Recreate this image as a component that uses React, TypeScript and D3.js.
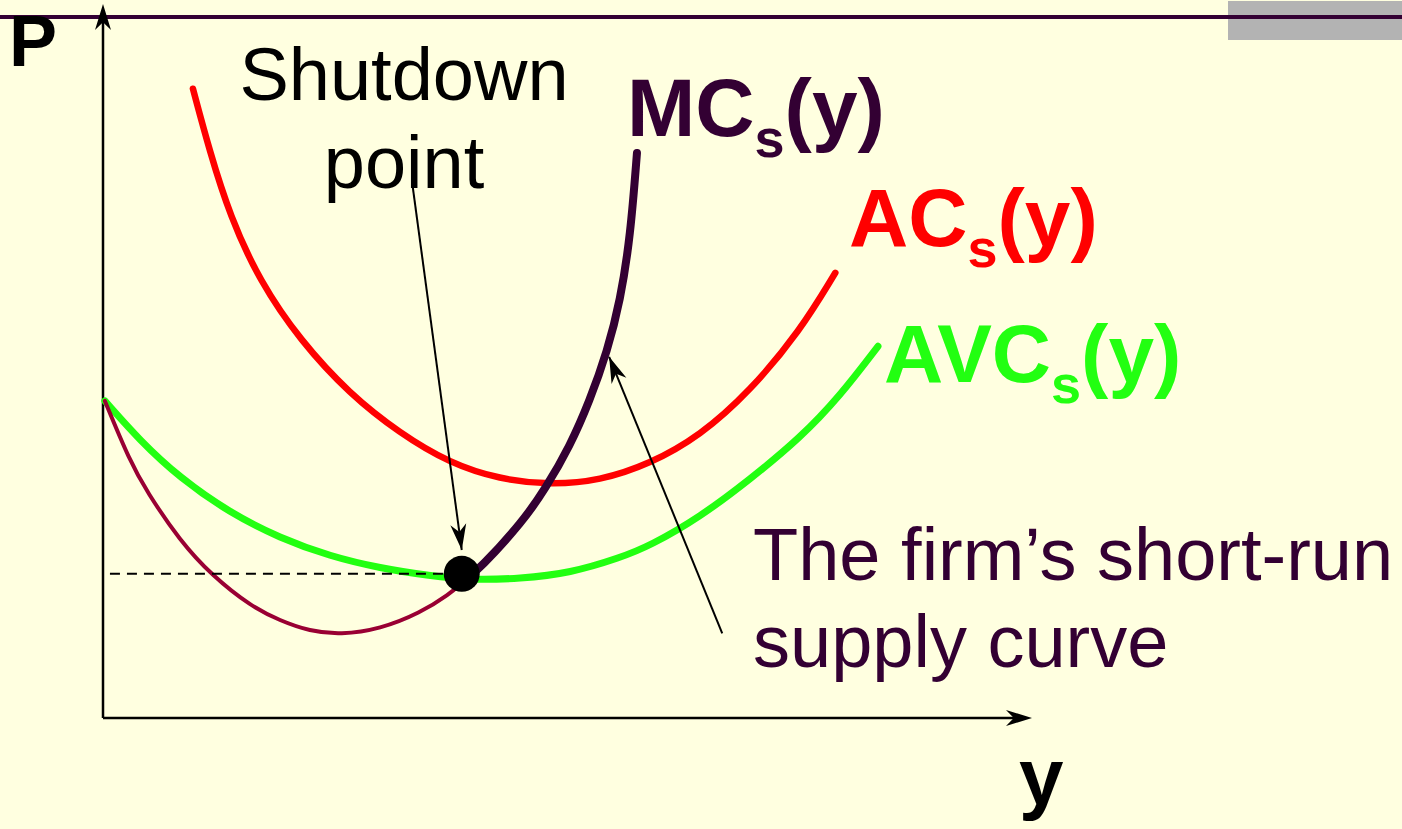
import React from "react";
import * as d3 from "d3";

// Quantity (y) and price (P) values in chart units (0-100 on both axes)
const acQ = [9.7, 11.5, 13.7, 16.9, 21.3, 26.6, 32.0, 37.4, 42.8, 48.2, 53.6, 59.0, 64.4, 69.8, 75.2, 79.0];
const acP = [89.9, 81.0, 71.7, 62.4, 53.9, 46.3, 40.7, 36.4, 34.1, 33.3, 33.9, 36.3, 40.3, 46.7, 55.3, 63.6];

const avcQ = [0.2, 4.0, 8.3, 13.7, 19.1, 24.5, 29.9, 35.3, 39.6, 45.0, 50.4, 55.8, 59.0, 64.4, 69.8, 75.2, 79.5, 83.6];
const avcP = [45.3, 39.6, 34.3, 29.3, 25.7, 23.1, 21.4, 20.3, 19.7, 19.9, 20.7, 22.9, 24.6, 28.7, 34.1, 40.0, 46.0, 53.1];

// MC below the shutdown point (thin)
const mcLowQ = [0.2, 2.9, 4.7, 8.3, 11.8, 15.9, 19.1, 22.3, 25.6, 29.9, 34.2, 37.4, 38.7];
const mcLowP = [45.3, 36.7, 32.4, 25.3, 20.3, 16.0, 13.9, 12.4, 11.9, 12.7, 15.0, 17.7, 19.3];

// MC above the shutdown point = short-run supply curve (thick)
const mcHighQ = [38.7, 40.7, 45.3, 47.7, 50.4, 52.5, 54.4, 55.8, 56.9, 57.6];
const mcHighP = [19.3, 21.4, 28.1, 32.7, 38.9, 45.3, 52.4, 59.6, 68.9, 80.7];

const shutdownQ = 38.7;
const shutdownP = 20.6;

// annotation arrows: [tailQ, tailP, tipQ, tipP]
const shutdownArrow = [33.4, 76.0, 38.7, 24.0];
const supplyArrow = [66.8, 12.1, 54.6, 51.6];

const W = 1402;
const H = 829;
const xs = d3.scaleLinear().domain([0, 100]).range([103, 1030]);
const ys = d3.scaleLinear().domain([0, 100]).range([718, 18]);

const zip = (q: number[], p: number[]): [number, number][] => q.map((v, i) => [v, p[i]]);
const line = d3
  .line<[number, number]>()
  .x((d) => xs(d[0]))
  .y((d) => ys(d[1]))
  .curve(d3.curveBasis);

function arrowHead(tx: number, ty: number, fx: number, fy: number, len = 26, half = 8, notch = 0.3) {
  const dx = tx - fx;
  const dy = ty - fy;
  const L = Math.hypot(dx, dy);
  const ux = dx / L;
  const uy = dy / L;
  const px = -uy;
  const py = ux;
  const bx = tx - ux * len;
  const by = ty - uy * len;
  const nx = tx - ux * len * (1 - notch);
  const ny = ty - uy * len * (1 - notch);
  return `M${tx},${ty}L${bx + px * half},${by + py * half}L${nx},${ny}L${bx - px * half},${by - py * half}Z`;
}

const FONT = "'Liberation Sans', Arial, Helvetica, sans-serif";
const PURPLE = "#330033";

function Arrow({ a }: { a: number[] }) {
  const x1 = xs(a[0]);
  const y1 = ys(a[1]);
  const x2 = xs(a[2]);
  const y2 = ys(a[3]);
  return (
    <g>
      <line x1={x1} y1={y1} x2={x2} y2={y2} stroke="#000" strokeWidth={2} />
      <path d={arrowHead(x2, y2, x1, y1, 26, 8)} fill="#000" />
    </g>
  );
}

export default function App() {
  const axX0 = xs(0);
  const axY0 = ys(0);
  const axTopY = 4;
  const axRightX = 1032;
  return (
    <div style={{ position: "fixed", left: 0, top: 0 }}>
      <svg width={W} height={H} style={{ display: "block" }}>
        <rect x={0} y={0} width={W} height={H} fill="#FFFFE0" />
        <rect x={1228} y={1} width={174} height={39} fill="#B3B3B3" />
        <line x1={0} y1={17} x2={W} y2={17} stroke={PURPLE} strokeWidth={4} />

        {/* axes */}
        <line x1={axX0} y1={axY0} x2={axX0} y2={axTopY + 10} stroke="#000" strokeWidth={2.5} />
        <path d={arrowHead(axX0, axTopY, axX0, axY0, 26, 8)} fill="#000" />
        <line x1={axX0} y1={axY0} x2={axRightX - 10} y2={axY0} stroke="#000" strokeWidth={2.5} />
        <path d={arrowHead(axRightX, axY0, axX0, axY0, 26, 8)} fill="#000" />

        {/* curves */}
        <path d={line(zip(avcQ, avcP)) || ""} fill="none" stroke="#22FF11" strokeWidth={7} strokeLinecap="round" />
        <path d={line(zip(acQ, acP)) || ""} fill="none" stroke="#FF0000" strokeWidth={6.5} strokeLinecap="round" />
        <path d={line(zip(mcLowQ, mcLowP)) || ""} fill="none" stroke="#990033" strokeWidth={4} strokeLinecap="round" />
        <path d={line(zip(mcHighQ, mcHighP)) || ""} fill="none" stroke={PURPLE} strokeWidth={8} strokeLinecap="round" />

        {/* dashed line to shutdown price */}
        <line
          x1={xs(0.75)}
          y1={ys(shutdownP)}
          x2={xs(shutdownQ)}
          y2={ys(shutdownP)}
          stroke="#000"
          strokeWidth={2}
          strokeDasharray="10 7"
        />
        <circle cx={xs(shutdownQ)} cy={ys(shutdownP)} r={18} fill="#000" />

        <Arrow a={shutdownArrow} />
        <Arrow a={supplyArrow} />

        {/* texts */}
        <g fontFamily={FONT}>
          <text x={9} y={66} fontSize={72} fontWeight="bold" fill="#000">P</text>
          <text x={1019} y={804} fontSize={80} fontWeight="bold" fill="#000">y</text>

          <text x={404} y={100} fontSize={74} textAnchor="middle" fill="#000">Shutdown</text>
          <text x={404} y={188} fontSize={74} textAnchor="middle" fill="#000">point</text>

          <text x={627} y={136} fontSize={82} fontWeight="bold" fill={PURPLE}>
            MC<tspan fontSize={54} dy={21}>s</tspan><tspan dy={-21}>(y)</tspan>
          </text>
          <text x={849} y={246} fontSize={82} fontWeight="bold" fill="#FF0000">
            AC<tspan fontSize={54} dy={21}>s</tspan><tspan dy={-21}>(y)</tspan>
          </text>
          <text x={884} y={382} fontSize={82} fontWeight="bold" fill="#22FF11">
            AVC<tspan fontSize={54} dy={21}>s</tspan><tspan dy={-21}>(y)</tspan>
          </text>

          <text x={753} y={580} fontSize={74} fill={PURPLE}>The firm’s short-run</text>
          <text x={753} y={667} fontSize={74} fill={PURPLE}>supply curve</text>
        </g>
      </svg>
    </div>
  );
}
